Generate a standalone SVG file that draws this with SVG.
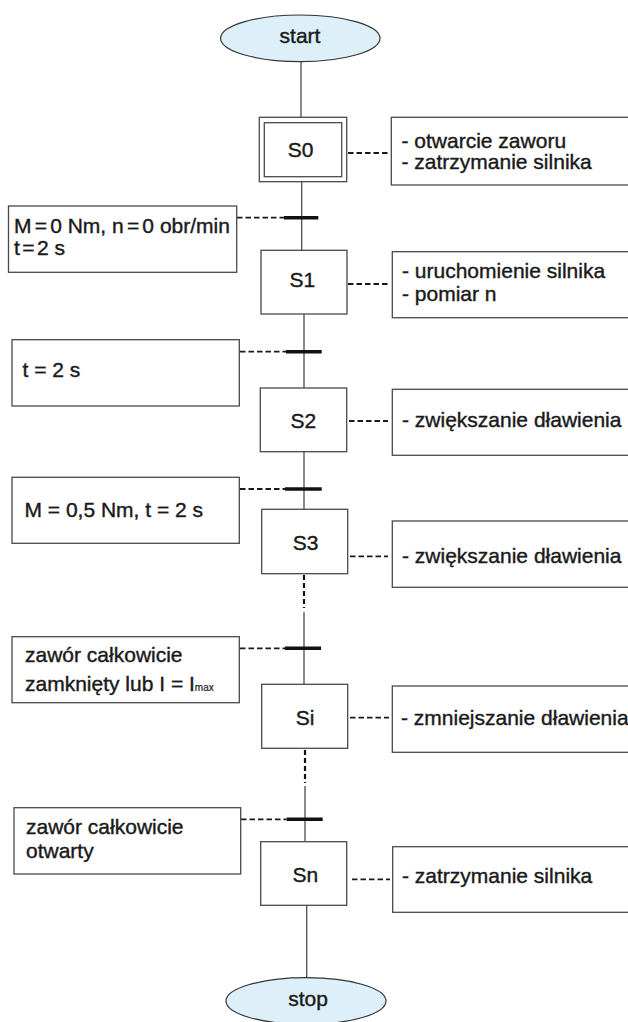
<svg xmlns="http://www.w3.org/2000/svg" width="628" height="1022" viewBox="0 0 628 1022">
<style>
.t{font-family:"Liberation Sans",Arial,sans-serif;font-size:21px;fill:#1a1a1a;stroke:#1a1a1a;stroke-width:0.4}
.c{text-anchor:middle}
.box{fill:#fff;stroke:#4a4a4a;stroke-width:1.3}
.ell{fill:#ddf0fa;stroke:#333;stroke-width:1.2}
.ln{stroke:#4d4d4d;stroke-width:1.3;fill:none}
.dv{stroke:#111;stroke-width:2.2;stroke-dasharray:5 3;fill:none}
.dh{stroke:#1a1a1a;stroke-width:1.8;stroke-dasharray:5.5 3;fill:none}
.bar{stroke:#111;stroke-width:3.5}
</style>
<rect width="628" height="1022" fill="#fff"/>
<g id="connectors">
<line class="ln" x1="301" y1="61.7" x2="301" y2="117.3"/>
<line class="ln" x1="301.7" y1="181.7" x2="301.7" y2="250.3"/>
<line class="ln" x1="304" y1="314" x2="304" y2="388"/>
<line class="ln" x1="304" y1="451.7" x2="304" y2="509.3"/>
<line class="dv" x1="304" y1="575" x2="304" y2="608"/>
<line class="ln" x1="304" y1="612" x2="304" y2="684.3"/>
<line class="dv" x1="305" y1="750" x2="305" y2="783"/>
<line class="ln" x1="305" y1="786" x2="305" y2="841.7"/>
<line class="ln" x1="306.7" y1="905.3" x2="306.7" y2="977.7"/>
<line class="bar" x1="284" y1="217.7" x2="318.3" y2="217.7"/>
<line class="bar" x1="286" y1="351.7" x2="321.7" y2="351.7"/>
<line class="bar" x1="285" y1="489" x2="321.7" y2="489"/>
<line class="bar" x1="285" y1="648.3" x2="321" y2="648.3"/>
<line class="bar" x1="286.7" y1="819.3" x2="322.7" y2="819.3"/>
<line class="dh" x1="237" y1="217.7" x2="284" y2="217.7"/>
<line class="dh" x1="240" y1="351.7" x2="286" y2="351.7"/>
<line class="dh" x1="240" y1="489" x2="285" y2="489"/>
<line class="dh" x1="240" y1="648.3" x2="285" y2="648.3"/>
<line class="dh" x1="241" y1="819.3" x2="286.7" y2="819.3"/>
<line class="dh" x1="348" y1="153" x2="390" y2="153"/>
<line class="dh" x1="348" y1="284" x2="390" y2="284"/>
<line class="dh" x1="349" y1="421" x2="388" y2="421"/>
<line class="dh" x1="350" y1="556.3" x2="388" y2="556.3"/>
<line class="dh" x1="350" y1="717.7" x2="389" y2="717.7"/>
<line class="dh" x1="352" y1="879.3" x2="390" y2="879.3"/>
</g>
<g id="start">
<ellipse class="ell" cx="300.3" cy="38.3" rx="79.7" ry="23.3"/>
<text class="t c" x="300" y="43">start</text>
</g>
<g id="S0">
<rect class="box" x="259.3" y="117.3" width="87.4" height="64.4"/>
<rect class="box" x="264.3" y="122.7" width="77.4" height="54"/>
<text class="t c" x="300.5" y="156.7">S0</text>
</g>
<g id="S0-action">
<rect class="box" x="391.3" y="117.3" width="250" height="67.7"/>
<text class="t" x="401.5" y="147.7">- otwarcie zaworu</text>
<text class="t" x="401.5" y="169">- zatrzymanie silnika</text>
</g>
<g id="T1-cond">
<rect class="box" x="8.5" y="206" width="228.2" height="66.3"/>
<text class="t" x="14" y="232.5">M<tspan dx="3.2">=</tspan><tspan dx="3.2">0</tspan> Nm, n<tspan dx="3.2">=</tspan><tspan dx="3.2">0</tspan> obr/min</text>
<text class="t" x="14" y="255">t<tspan dx="2.4">=</tspan><tspan dx="2.4">2</tspan> s</text>
</g>
<g id="S1">
<rect class="box" x="261" y="250.3" width="86" height="63.7"/>
<text class="t c" x="302.3" y="286.5">S1</text>
</g>
<g id="S1-action">
<rect class="box" x="392.3" y="251.7" width="250" height="66"/>
<text class="t" x="402" y="278">- uruchomienie silnika</text>
<text class="t" x="402" y="301">- pomiar n</text>
</g>
<g id="T2-cond">
<rect class="box" x="12" y="339.7" width="227.3" height="66.3"/>
<text class="t" x="22.5" y="377">t = 2 s</text>
</g>
<g id="S2">
<rect class="box" x="260.3" y="388" width="86.4" height="63.7"/>
<text class="t c" x="303.3" y="428.3">S2</text>
</g>
<g id="S2-action">
<rect class="box" x="392.3" y="389.3" width="250" height="66"/>
<text class="t" x="402" y="426.5">- zwiększanie dławienia</text>
</g>
<g id="T3-cond">
<rect class="box" x="12" y="477.3" width="227.3" height="66"/>
<text class="t" x="24.5" y="516.7">M = 0,5 Nm, t = 2 s</text>
</g>
<g id="S3">
<rect class="box" x="261.7" y="509.3" width="86" height="64.4"/>
<text class="t c" x="305.5" y="550">S3</text>
</g>
<g id="S3-action">
<rect class="box" x="392.3" y="521" width="250" height="66.3"/>
<text class="t" x="402" y="563">- zwiększanie dławienia</text>
</g>
<g id="T4-cond">
<rect class="box" x="12" y="636.7" width="227.3" height="66"/>
<text class="t" x="25" y="662">zawór całkowicie</text>
<text class="t" x="25" y="690.7">zamknięty lub I = I<tspan font-size="10" stroke-width="0.2">max</tspan></text>
</g>
<g id="Si">
<rect class="box" x="261.7" y="684.3" width="86" height="64"/>
<text class="t c" x="305" y="725">Si</text>
</g>
<g id="Si-action">
<rect class="box" x="392.3" y="686" width="250" height="66.3"/>
<text class="t" x="401" y="725">- zmniejszanie dławienia</text>
</g>
<g id="T5-cond">
<rect class="box" x="14" y="807.7" width="226.7" height="66.3"/>
<text class="t" x="26" y="834">zawór całkowicie</text>
<text class="t" x="26" y="857.7">otwarty</text>
</g>
<g id="Sn">
<rect class="box" x="260.7" y="841.7" width="86" height="63.6"/>
<text class="t c" x="305.3" y="882">Sn</text>
</g>
<g id="Sn-action">
<rect class="box" x="392.7" y="846.7" width="250" height="65.6"/>
<text class="t" x="402" y="883">- zatrzymanie silnika</text>
</g>
<g id="stop">
<ellipse class="ell" cx="306" cy="1001" rx="80" ry="23.3"/>
<text class="t c" x="308" y="1005.5">stop</text>
</g>
</svg>
